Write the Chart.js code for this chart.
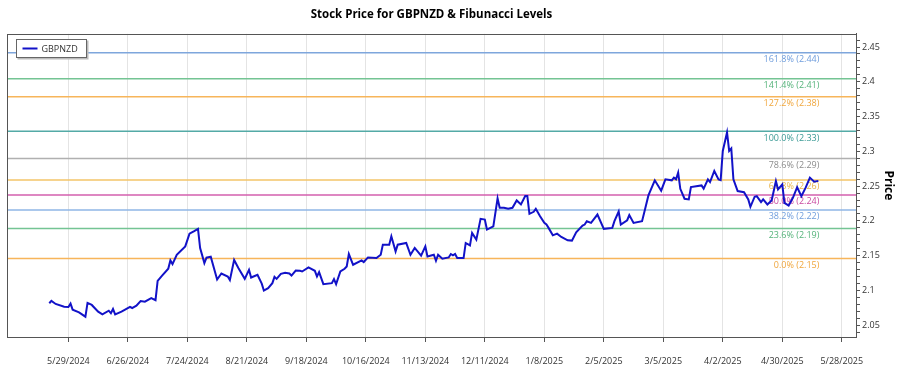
<!DOCTYPE html>
<html><head><meta charset="utf-8">
<script src="https://cdn.jsdelivr.net/npm/chart.js@4.4.1/dist/chart.umd.min.js"></script>
<style>html,body{margin:0;padding:0;background:#fff}#wrap{width:900px;height:375px;position:relative}</style>
</head><body><div id="wrap"><canvas id="c"></canvas></div>
<script>
const seriesName = "GBPNZD";
const chartTitle = "Stock Price for GBPNZD & Fibunacci Levels";
const axisTitle = "Price";
const dates = ["2024-05-20","2024-05-21","2024-05-23","2024-05-27","2024-05-29","2024-05-30","2024-05-31","2024-06-03","2024-06-06","2024-06-07","2024-06-09","2024-06-12","2024-06-14","2024-06-17","2024-06-18","2024-06-19","2024-06-20","2024-06-23","2024-06-27","2024-06-28","2024-06-30","2024-07-02","2024-07-04","2024-07-07","2024-07-09","2024-07-10","2024-07-12","2024-07-15","2024-07-16","2024-07-17","2024-07-19","2024-07-23","2024-07-25","2024-07-27","2024-07-29","2024-07-30","2024-08-01","2024-08-02","2024-08-04","2024-08-07","2024-08-09","2024-08-12","2024-08-13","2024-08-15","2024-08-17","2024-08-20","2024-08-22","2024-08-23","2024-08-26","2024-08-28","2024-08-29","2024-08-31","2024-09-02","2024-09-03","2024-09-04","2024-09-06","2024-09-08","2024-09-10","2024-09-11","2024-09-13","2024-09-15","2024-09-16","2024-09-19","2024-09-22","2024-09-23","2024-09-24","2024-09-26","2024-09-30","2024-10-01","2024-10-02","2024-10-04","2024-10-06","2024-10-07","2024-10-08","2024-10-10","2024-10-14","2024-10-15","2024-10-17","2024-10-21","2024-10-23","2024-10-24","2024-10-27","2024-10-28","2024-10-30","2024-10-31","2024-11-04","2024-11-06","2024-11-08","2024-11-11","2024-11-13","2024-11-14","2024-11-17","2024-11-18","2024-11-19","2024-11-21","2024-11-24","2024-11-25","2024-11-26","2024-11-27","2024-11-28","2024-12-01","2024-12-02","2024-12-04","2024-12-05","2024-12-07","2024-12-09","2024-12-11","2024-12-12","2024-12-15","2024-12-17","2024-12-18","2024-12-20","2024-12-22","2024-12-24","2024-12-26","2024-12-28","2024-12-30","2024-12-31","2025-01-01","2025-01-03","2025-01-04","2025-01-06","2025-01-08","2025-01-09","2025-01-10","2025-01-12","2025-01-14","2025-01-16","2025-01-19","2025-01-21","2025-01-23","2025-01-26","2025-01-27","2025-01-28","2025-01-30","2025-02-02","2025-02-05","2025-02-09","2025-02-10","2025-02-12","2025-02-13","2025-02-16","2025-02-17","2025-02-19","2025-02-23","2025-02-24","2025-02-26","2025-03-01","2025-03-04","2025-03-06","2025-03-09","2025-03-10","2025-03-11","2025-03-12","2025-03-13","2025-03-15","2025-03-17","2025-03-18","2025-03-23","2025-03-24","2025-03-26","2025-03-27","2025-03-29","2025-03-31","2025-04-01","2025-04-02","2025-04-04","2025-04-05","2025-04-06","2025-04-07","2025-04-09","2025-04-12","2025-04-14","2025-04-15","2025-04-17","2025-04-18","2025-04-20","2025-04-21","2025-04-23","2025-04-25","2025-04-27","2025-04-28","2025-04-30","2025-05-01","2025-05-03","2025-05-05","2025-05-07","2025-05-09","2025-05-11","2025-05-13","2025-05-15","2025-05-17"];
const prices = [2.0815,2.0849,2.0805,2.0766,2.0762,2.0810,2.0723,2.0685,2.0622,2.0820,2.0791,2.0694,2.0656,2.0708,2.0671,2.0733,2.0656,2.0694,2.0762,2.0747,2.0781,2.0848,2.0838,2.0888,2.0859,2.1138,2.1210,2.1311,2.1431,2.1379,2.1513,2.1633,2.1817,2.1850,2.1885,2.1610,2.1393,2.1470,2.1484,2.1156,2.1243,2.1200,2.1148,2.1437,2.1321,2.1166,2.1296,2.1185,2.1224,2.1098,2.0997,2.1032,2.1104,2.1195,2.1166,2.1239,2.1253,2.1243,2.1214,2.1286,2.1282,2.1272,2.1330,2.1282,2.1200,2.1263,2.1090,2.1104,2.1162,2.1090,2.1272,2.1311,2.1344,2.1523,2.1369,2.1431,2.1408,2.1474,2.1465,2.1513,2.1658,2.1658,2.1778,2.1561,2.1658,2.1682,2.1513,2.1610,2.1499,2.1633,2.1489,2.1513,2.1427,2.1513,2.1455,2.1474,2.1523,2.1503,2.1523,2.1465,2.1465,2.1682,2.1648,2.1827,2.1730,2.2029,2.2019,2.1875,2.1922,2.2322,2.2188,2.2188,2.2174,2.2188,2.2294,2.2236,2.2356,2.2356,2.2101,2.2130,2.2174,2.2067,2.1971,2.1947,2.1899,2.1792,2.1817,2.1769,2.1720,2.1716,2.1836,2.1932,2.1947,2.1995,2.1971,2.2091,2.1885,2.1899,2.1995,2.2135,2.1947,2.2009,2.2084,2.1971,2.1995,2.2116,2.2366,2.2583,2.2434,2.2597,2.2583,2.2622,2.2597,2.2694,2.2461,2.2318,2.2308,2.2486,2.2510,2.2463,2.2597,2.2558,2.2717,2.2597,2.2587,2.3006,2.3272,2.3006,2.3041,2.2597,2.2428,2.2413,2.2308,2.2202,2.2347,2.2356,2.2269,2.2308,2.2236,2.2294,2.2572,2.2453,2.2525,2.2258,2.2219,2.2331,2.2484,2.2356,2.2477,2.2622,2.2564,2.2575];
const xTickLabels = ["5/29/2024","6/26/2024","7/24/2024","8/21/2024","9/18/2024","10/16/2024","11/13/2024","12/11/2024","1/8/2025","2/5/2025","3/5/2025","4/2/2025","4/30/2025","5/28/2025"];
const yTickLabels = ["2.05","2.1","2.15","2.2","2.25","2.3","2.35","2.4","2.45"];
const fibNames = ["0.0% (2.15)","23.6% (2.19)","38.2% (2.22)","50.0% (2.24)","61.8% (2.26)","78.6% (2.29)","100.0% (2.33)","127.2% (2.38)","141.4% (2.41)","161.8% (2.44)"];
const fibValues = [2.1460,2.1891,2.2158,2.2373,2.2589,2.2896,2.3287,2.3784,2.4044,2.4417];
const fibLineColors = ["#f7b55a","#74c493","#8fb6e6","#d35fae","#f3c468","#b0b0b0","#53aaa6","#f7b55a","#74c493","#7ea6dc"];
const fibTextColors = ["#f0a63c","#55b37a","#6f9ddc","#c9489f","#e8b44a","#8c8c8c","#3a9a95","#f0a63c","#55b37a","#6f9ddc"];

const FONT = "'Open Sans', 'Noto Sans', sans-serif";
const BASE = Date.UTC(2024, 4, 29);
function dayOf(s) {
  let y, m, d;
  if (s.indexOf('-') > 0) { [y, m, d] = s.split('-').map(Number); }
  else { [m, d, y] = s.split('/').map(Number); }
  return (Date.UTC(y, m - 1, d) - BASE) / 86400000;
}
const xMin = -28.9, xMax = 370.7;

const priceData = dates.map((d, i) => ({ x: dayOf(d), y: prices[i] }));
const datasets = [{
  label: seriesName, data: priceData, borderColor: '#1212c8', backgroundColor: '#1212c8',
  borderWidth: 2, pointRadius: 0, tension: 0, order: 0
}];
fibValues.forEach((v, i) => {
  datasets.push({
    label: fibNames[i], data: [{ x: xMin, y: v }, { x: xMax, y: v }],
    borderColor: fibLineColors[i], borderWidth: 1.5, pointRadius: 0, order: 1
  });
});

const fibLabelPlugin = {
  id: 'fibLabels',
  beforeDatasetDraw(chart, args) {
    if (args.index !== 0) return;
    const ctx = chart.ctx, ys = chart.scales.y, xs = chart.scales.x;
    const xr = xs.getPixelForValue(dayOf(dates[dates.length - 1])) + 1;
    ctx.save();
    ctx.font = "9px " + FONT;
    ctx.textAlign = 'right'; ctx.textBaseline = 'middle';
    fibValues.forEach((v, i) => {
      ctx.fillStyle = fibTextColors[i];
      ctx.fillText(fibNames[i], xr, ys.getPixelForValue(v) + 7);
    });
    ctx.restore();
  }
};
const frameLegendPlugin = {
  id: 'frameLegend',
  afterDraw(chart) {
    const ctx = chart.ctx, a = chart.chartArea;
    ctx.save();
    ctx.strokeStyle = '#555'; ctx.lineWidth = 1;
    ctx.strokeRect(Math.round(a.left) + 0.5, Math.round(a.top) + 0.5, Math.round(a.right - a.left), Math.round(a.bottom - a.top));
    const ds = chart.data.datasets[0];
    const bx = Math.round(a.left) + 9.5, by = Math.round(a.top) + 5.5, bw = 70, bh = 18;
    ctx.fillStyle = '#bbb'; ctx.fillRect(bx + 1, by + 1, bw + 1, bh + 1);
    ctx.fillStyle = '#fff'; ctx.fillRect(bx, by, bw, bh);
    ctx.strokeStyle = '#666'; ctx.strokeRect(bx, by, bw, bh);
    ctx.strokeStyle = ds.borderColor; ctx.lineWidth = 2;
    ctx.beginPath(); ctx.moveTo(bx + 6, by + bh / 2); ctx.lineTo(bx + 21, by + bh / 2); ctx.stroke();
    ctx.fillStyle = '#333'; ctx.font = "9px " + FONT; ctx.textBaseline = 'middle'; ctx.textAlign = 'left';
    ctx.fillText(ds.label, bx + 25, by + bh / 2 + 0.5);
    ctx.restore();
  }
};

new Chart(document.getElementById('c'), {
  type: 'line',
  data: { datasets },
  options: {
    responsive: true, maintainAspectRatio: false, animation: false,
    layout: { padding: { left: 7, right: 0, top: 0, bottom: 7 } },
    plugins: {
      legend: { display: false },
      tooltip: { enabled: false },
      title: { display: true, text: chartTitle, fullSize: false, color: '#000',
        font: { family: FONT, size: 11.5, weight: 'bold' }, padding: { top: 8, bottom: 12 } }
    },
    scales: {
      x: {
        type: 'linear', min: xMin, max: xMax,
        afterBuildTicks(s) { s.ticks = xTickLabels.map(l => ({ value: dayOf(l) })); },
        afterFit(s) { s.height = 31; },
        ticks: { autoSkip: false, maxRotation: 0, padding: 14, color: '#333',
          font: { family: FONT, size: 9 }, callback: (v, i) => xTickLabels[i] },
        grid: { color: '#e4e4e4', tickColor: '#555', tickLength: 5, lineWidth: 1 },
        border: { color: '#555' }
      },
      y: {
        type: 'linear', position: 'right', min: 2.033, max: 2.469,
        afterBuildTicks(s) {
          const t = [];
          for (let k = 204; k <= 246; k++) t.push({ value: k / 100 });
          s.ticks = t;
        },
        afterFit(s) { s.width = 44; },
        ticks: { autoSkip: false, padding: 2, color: '#333', font: { family: FONT, size: 9 },
          callback: (v) => { const l = yTickLabels.find(t => Math.abs(parseFloat(t) - v) < 1e-6); return l === undefined ? '' : l; } },
        grid: { drawOnChartArea: false, tickColor: '#555', tickLength: 4 },
        border: { color: '#555' },
        title: { display: true, text: axisTitle, color: '#000', font: { family: FONT, size: 12, weight: 'bold' }, padding: { top: 4, bottom: 0 } }
      }
    }
  },
  plugins: [fibLabelPlugin, frameLegendPlugin]
});
</script></body></html>
